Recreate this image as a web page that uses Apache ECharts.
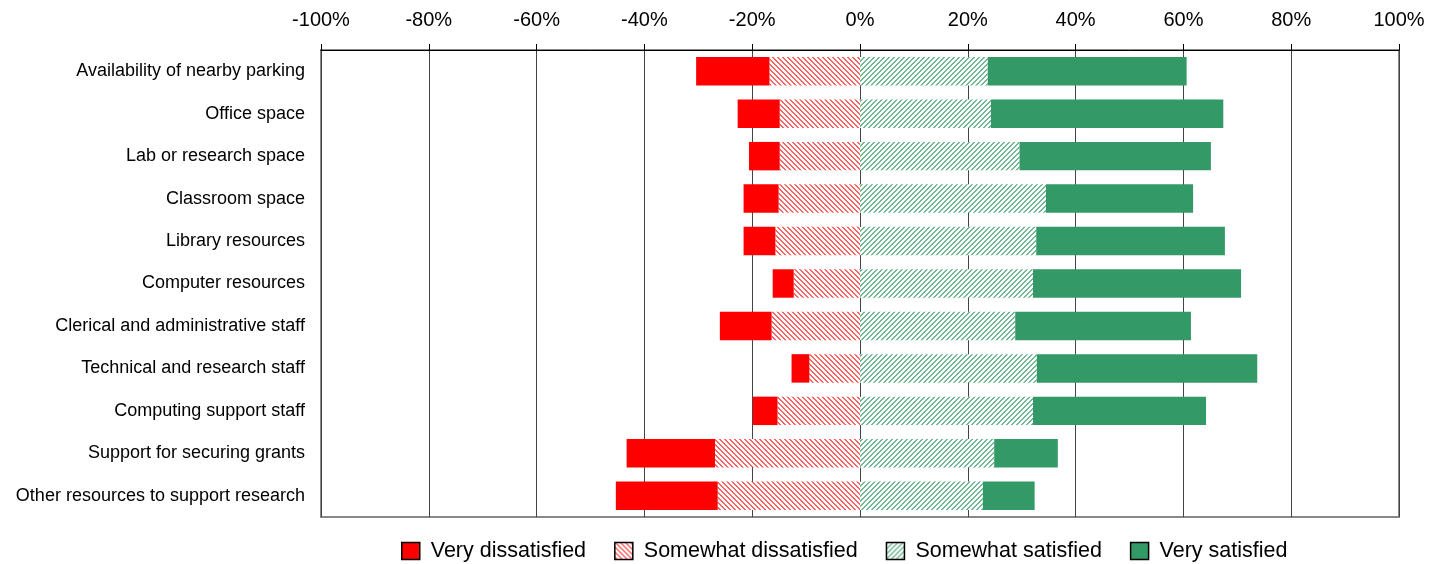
<!DOCTYPE html>
<html>
<head>
<meta charset="utf-8">
<script src="https://cdn.jsdelivr.net/npm/echarts@6/dist/echarts.min.js"></script>
<style>
    html, body { margin: 0; padding: 0; background: #fff; }
    #chart { width: 1430px; height: 564px; }
</style>
</head>
<body>
<div id="chart"></div>
<script>
// categories, top to bottom
var categories = [
    'Availability of nearby parking',
    'Office space',
    'Lab or research space',
    'Classroom space',
    'Library resources',
    'Computer resources',
    'Clerical and administrative staff',
    'Technical and research staff',
    'Computing support staff',
    'Support for securing grants',
    'Other resources to support research'
];

// percentages
var veryDissatisfied     = [13.6, 7.8, 5.7, 6.5, 5.9, 3.9, 9.6, 3.3, 4.6, 16.4, 18.9];
var somewhatDissatisfied = [16.8, 14.9, 14.9, 15.1, 15.7, 12.3, 16.4, 9.4, 15.3, 26.9, 26.4];
var somewhatSatisfied    = [23.7, 24.3, 29.6, 34.5, 32.7, 32.1, 28.8, 32.8, 32.1, 24.9, 22.8];
var verySatisfied        = [36.9, 43.1, 35.5, 27.3, 35.0, 38.6, 32.6, 40.9, 32.1, 11.8, 9.6];

var legendNames = ['Very dissatisfied', 'Somewhat dissatisfied', 'Somewhat satisfied', 'Very satisfied'];

var font = '"Liberation Sans", Arial, sans-serif';

// small tiled hatch, dir 1 = "/", -1 = "\"
function hatch(color, dir) {
    var n = 5;
    var c = document.createElement('canvas');
    c.width = n;
    c.height = n;
    var ctx = c.getContext('2d');
    ctx.fillStyle = '#fff';
    ctx.fillRect(0, 0, n, n);
    ctx.fillStyle = color;
    for (var x = 0; x < n; x++) {
        for (var y = 0; y < n; y++) {
            var k = dir > 0 ? (x + y) % n : ((x - y) % n + n) % n;
            if (k < 2) ctx.fillRect(x, y, 1, 1);
        }
    }
    return { image: c, repeat: 'repeat' };
}

function neg(arr) {
    return arr.map(function (v) { return -v; });
}

var chart = echarts.init(document.getElementById('chart'));

var option = {
    animation: false,
    grid: {
        left: 321,
        right: 31,
        top: 50,
        bottom: 47,
        show: true,
        borderColor: '#888',
        borderWidth: 2
    },
    legend: {
        data: legendNames,
        left: 396,
        top: 535,
        icon: 'rect',
        itemWidth: 18,
        itemHeight: 17,
        itemGap: 28,
        formatter: function (name) { return ' ' + name; },
        itemStyle: { borderColor: '#000', borderWidth: 1.5 },
        textStyle: { fontSize: 21.5, color: '#000', fontFamily: font }
    },
    xAxis: {
        type: 'value',
        position: 'top',
        min: -100,
        max: 100,
        interval: 20,
        axisLine: { show: true, lineStyle: { color: '#000', width: 1 } },
        axisTick: { show: true, length: 6, lineStyle: { color: '#000' } },
        axisLabel: {
            formatter: '{value}%',
            fontSize: 20,
            color: '#000',
            margin: 20,
            fontFamily: font
        },
        splitLine: { show: true, lineStyle: { color: '#444', width: 1 } }
    },
    yAxis: {
        type: 'category',
        inverse: true,
        data: categories,
        axisLine: { show: false },
        axisTick: { show: false },
        axisLabel: { fontSize: 18, color: '#000', margin: 16, fontFamily: font }
    },
    series: [
        // negatives stack outward from 0, so the "somewhat" part goes first
        {
            name: 'Somewhat dissatisfied',
            type: 'bar',
            stack: 'total',
            barWidth: '67%',
            data: neg(somewhatDissatisfied),
            itemStyle: { color: hatch('#ff6464', -1) }
        },
        {
            name: 'Very dissatisfied',
            type: 'bar',
            stack: 'total',
            data: neg(veryDissatisfied),
            itemStyle: { color: '#ff0000' }
        },
        {
            name: 'Somewhat satisfied',
            type: 'bar',
            stack: 'total',
            data: somewhatSatisfied,
            itemStyle: { color: hatch('#72b894', 1) }
        },
        {
            name: 'Very satisfied',
            type: 'bar',
            stack: 'total',
            data: verySatisfied,
            itemStyle: { color: '#339966' }
        }
    ]
};

chart.setOption(option);
</script>
</body>
</html>
